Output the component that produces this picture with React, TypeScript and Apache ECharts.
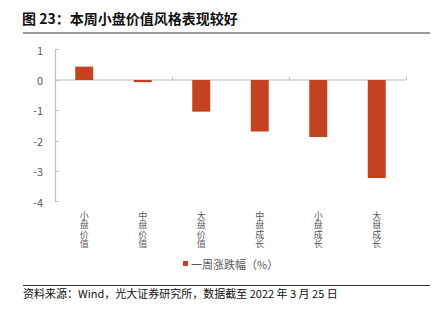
import React, { useEffect, useRef } from "react";
import * as echarts from "echarts";

const categories = ["小盘价值", "中盘价值", "大盘价值", "中盘成长", "小盘成长", "大盘成长"];
const weeklyChange = [0.44, -0.07, -1.04, -1.69, -1.87, -3.22];
const seriesName = "一周涨跌幅（%）";
const titleText = "图 23：本周小盘价值风格表现较好";
const sourceText = "资料来源：Wind，光大证券研究所，数据截至 2022 年 3 月 25 日";

const FONT = "'Noto Sans CJK SC', 'Noto Sans', sans-serif";

export default function App() {
  const ref = useRef<HTMLDivElement>(null);
  useEffect(() => {
    if (!ref.current) return;
    const chart = echarts.init(ref.current, null, { renderer: "svg" });
    chart.setOption({
      animation: false,
      textStyle: { fontFamily: FONT },
      title: {
        text: titleText,
        left: 17,
        top: 6,
        textStyle: { fontSize: 14, fontWeight: "bold", color: "#111", fontFamily: FONT },
      },
      graphic: [
        { type: "line", shape: { x1: 23, y1: 33, x2: 430, y2: 33 }, style: { stroke: "#333", lineWidth: 1.2 } },
        { type: "line", shape: { x1: 23, y1: 285.5, x2: 430, y2: 285.5 }, style: { stroke: "#333", lineWidth: 1.2 } },
        {
          type: "text",
          x: 23,
          y: 293,
          style: { text: sourceText, fontSize: 11, fill: "#111", fontFamily: FONT, verticalAlign: "middle" },
        },
      ],
      legend: {
        left: 178,
        top: 253,
        itemWidth: 5,
        itemHeight: 5,
        icon: "rect",
        textStyle: { fontSize: 11, color: "#595959", fontFamily: FONT, padding: [0, 0, 0, -2] },
        data: [seriesName],
      },
      grid: { left: 55, right: 37, top: 49.6, bottom: 120.3 },
      xAxis: [
        {
          type: "category",
          data: categories,
          axisLine: { onZero: true, lineStyle: { color: "#D3D3D3", width: 1.5 } },
          axisTick: { show: true, inside: true, length: 3, lineStyle: { color: "#BFBFBF" } },
          axisLabel: { show: false },
        },
        {
          type: "category",
          data: categories,
          position: "bottom",
          axisLine: { show: false, onZero: false },
          axisTick: { show: false },
          axisLabel: {
            show: true,
            margin: 9,
            fontSize: 9,
            lineHeight: 9.5,
            color: "#595959",
            fontFamily: FONT,
            interval: 0,
            formatter: (v: string) => v.split("").join("\n"),
          },
        },
      ],
      yAxis: {
        type: "value",
        min: -4,
        max: 1,
        interval: 1,
        splitLine: { show: false },
        axisLine: { show: true, lineStyle: { color: "#BFBFBF", width: 1.2 } },
        axisTick: { show: true, inside: true, length: 4, lineStyle: { color: "#BFBFBF" } },
        axisLabel: { fontSize: 11, color: "#595959", margin: 12, fontFamily: FONT },
      },
      series: [
        {
          name: seriesName,
          type: "bar",
          data: weeklyChange,
          barWidth: 18,
          itemStyle: { color: "#C4421F" },
        },
      ],
    });
    return () => chart.dispose();
  }, []);
  return (
    <div
      ref={ref}
      style={{ position: "fixed", left: 0, top: 0, width: 443, height: 322, background: "#fff" }}
    />
  );
}
